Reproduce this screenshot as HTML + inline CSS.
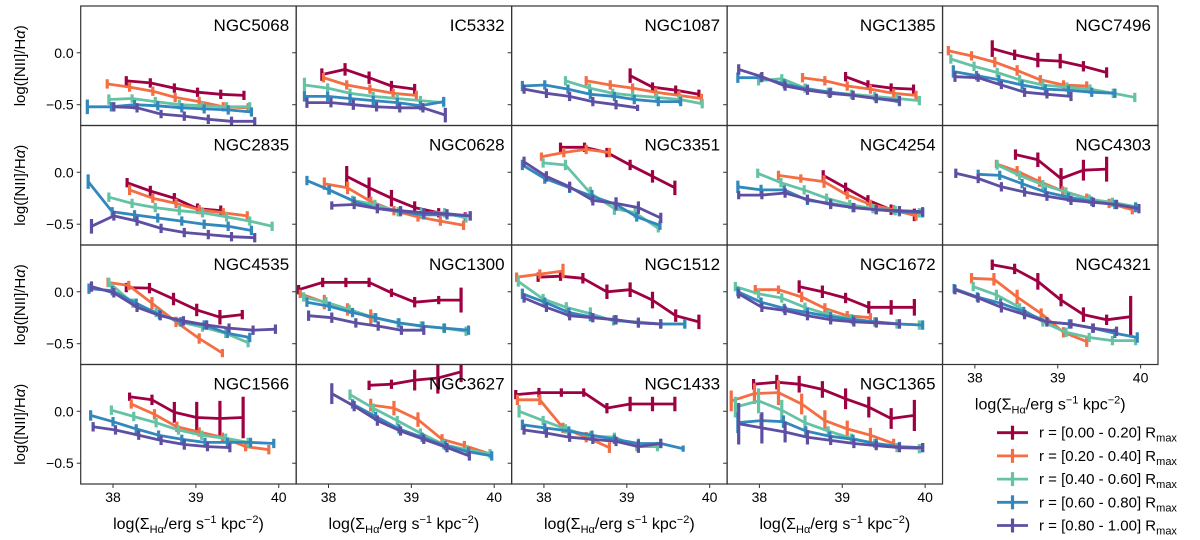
<!DOCTYPE html>
<html><head><meta charset="utf-8"><style>
html,body{margin:0;padding:0;background:#fff;}
svg{display:block;font-family:"Liberation Sans","DejaVu Sans",sans-serif;}
</style></head><body>
<svg id="fig" width="1200" height="540" viewBox="0 0 1200 540" xmlns="http://www.w3.org/2000/svg"></svg>
<script>
const galaxies = ["NGC5068","IC5332","NGC1087","NGC1385","NGC7496","NGC2835","NGC0628","NGC3351","NGC4254","NGC4303","NGC4535","NGC1300","NGC1512","NGC1672","NGC4321","NGC1566","NGC3627","NGC1433","NGC1365"];
const seriesLabels = ["0.00 - 0.20","0.20 - 0.40","0.40 - 0.60","0.60 - 0.80","0.80 - 1.00"];
const xTicks = [38,39,40];
const yTicks = [0.0,-0.5];
const yTickLabels = ["0.0","\u22120.5"];
const r00 = [
[[38.16,-0.27],[38.45,-0.29],[38.74,-0.34],[39.02,-0.38],[39.30,-0.40],[39.58,-0.41]],
[[37.92,-0.21,0.06],[38.20,-0.16,0.06],[38.49,-0.24,0.06],[38.76,-0.32,0.05],[39.04,-0.35,0.05]],
[[39.04,-0.22,0.07],[39.31,-0.33],[39.59,-0.36],[39.87,-0.40]],
[[39.04,-0.23],[39.31,-0.31],[39.59,-0.34],[39.86,-0.35]],
[[38.21,0.04,0.08],[38.48,-0.02,0.05],[38.76,-0.07,0.07],[39.03,-0.08,0.07],[39.31,-0.13,0.05],[39.59,-0.19,0.05]],
[[38.17,-0.10],[38.45,-0.18,0.05],[38.74,-0.25,0.05],[39.02,-0.35,0.05],[39.30,-0.37,0.05]],
[[38.22,-0.04,0.1],[38.49,-0.15,0.1],[38.76,-0.25,0.08],[39.04,-0.34,0.06],[39.33,-0.39],[39.65,-0.43]],
[[38.20,0.24],[38.49,0.24],[38.76,0.19],[39.04,0.07,0.05],[39.31,-0.04,0.06],[39.58,-0.15,0.07]],
[[38.77,-0.03,0.05],[39.04,-0.15,0.05],[39.31,-0.27,0.05],[39.59,-0.36,0.05],[39.87,-0.41,0.06]],
[[38.49,0.17,0.05],[38.76,0.12,0.07],[39.04,-0.06,0.1],[39.31,0.02,0.1],[39.59,0.03,0.12]],
[[38.16,0.04],[38.44,0.035,0.05],[38.73,-0.07,0.06],[39.01,-0.175,0.06],[39.29,-0.245,0.07],[39.56,-0.22]],
[[37.64,0.02],[37.93,0.09],[38.21,0.09],[38.49,0.09],[38.76,-0.01,0.04],[39.04,-0.10,0.05],[39.33,-0.08,0.04],[39.60,-0.08,0.12]],
[[37.93,0.14],[38.20,0.15],[38.47,0.13,0.05],[38.76,0.0,0.07],[39.04,0.02,0.07],[39.31,-0.08,0.08],[39.59,-0.23,0.06],[39.87,-0.29,0.07]],
[[38.48,0.05,0.06],[38.76,0.0,0.06],[39.04,-0.06,0.05],[39.32,-0.15,0.06],[39.59,-0.15,0.07],[39.87,-0.15,0.08]],
[[38.21,0.26,0.05],[38.48,0.22,0.05],[38.76,0.10,0.08],[39.04,-0.08,0.06],[39.31,-0.22,0.07],[39.59,-0.27,0.05],[39.88,-0.24,0.2]],
[[38.20,0.14,0.04],[38.47,0.11,0.05],[38.74,-0.01,0.1],[39.01,-0.06,0.15],[39.29,-0.07,0.17],[39.57,-0.06,0.2]],
[[38.49,0.25],[38.76,0.26],[39.04,0.30,0.1],[39.32,0.32,0.15],[39.60,0.38,0.1]],
[[37.66,0.16],[37.94,0.18],[38.21,0.18,0.04],[38.48,0.18,0.04],[38.76,0.03,0.05],[39.04,0.07,0.07],[39.31,0.07,0.07],[39.58,0.07,0.07]],
[[37.93,0.26,0.05],[38.21,0.28,0.07],[38.48,0.26,0.08],[38.76,0.21,0.08],[39.04,0.12,0.1],[39.32,0.04,0.1],[39.59,-0.07,0.1],[39.87,-0.04,0.15]]
];
const r20 = [
[[37.93,-0.30],[38.20,-0.33],[38.48,-0.37],[38.75,-0.43],[39.04,-0.47],[39.33,-0.52],[39.63,-0.53]],
[[37.94,-0.24],[38.22,-0.31],[38.50,-0.35],[38.78,-0.39],[39.06,-0.41]],
[[38.51,-0.27],[38.80,-0.31],[39.07,-0.34],[39.35,-0.38],[39.63,-0.41],[39.90,-0.44]],
[[38.52,-0.24],[38.79,-0.27],[39.06,-0.32],[39.34,-0.35],[39.62,-0.39],[39.89,-0.41]],
[[37.68,0.02],[37.96,-0.03],[38.24,-0.09,0.05],[38.51,-0.17,0.05],[38.79,-0.26],[39.07,-0.31],[39.35,-0.32]],
[[38.20,-0.17,0.05],[38.48,-0.25],[38.76,-0.30],[39.04,-0.36],[39.33,-0.39],[39.62,-0.42]],
[[37.95,-0.11,0.06],[38.23,-0.15,0.06],[38.51,-0.28],[38.79,-0.37],[39.08,-0.43],[39.35,-0.47],[39.63,-0.51]],
[[37.97,0.15,0.04],[38.24,0.19],[38.51,0.22],[38.79,0.19]],
[[38.23,-0.03],[38.50,-0.06,0.04],[38.78,-0.09,0.06],[39.06,-0.22,0.04],[39.34,-0.31],[39.62,-0.36],[39.89,-0.42]],
[[38.26,0.08,0.04],[38.51,0.01,0.05],[38.78,-0.09,0.05],[39.06,-0.18],[39.35,-0.25],[39.62,-0.30],[39.90,-0.36]],
[[37.94,0.09],[38.19,0.06],[38.47,-0.11,0.06],[38.76,-0.29,0.05],[39.04,-0.45,0.05],[39.32,-0.59,0.04]],
[[37.66,-0.02,0.04],[37.95,-0.10,0.07],[38.23,-0.17,0.06],[38.51,-0.25,0.08]],
[[37.67,0.14],[37.95,0.17],[38.23,0.20,0.07]],
[[37.95,0.02],[38.23,0.02,0.04],[38.51,-0.05,0.05],[38.79,-0.16,0.05],[39.06,-0.23],[39.34,-0.25]],
[[37.96,0.13,0.05],[38.23,0.12,0.06],[38.51,-0.05,0.07],[38.80,-0.21,0.05],[39.07,-0.39,0.05],[39.35,-0.48,0.05]],
[[38.22,0.07],[38.50,-0.03,0.05],[38.77,-0.15,0.05],[39.04,-0.20],[39.32,-0.25],[39.60,-0.34],[39.88,-0.37]],
[[38.51,0.06,0.06],[38.79,0.03,0.07],[39.08,-0.08,0.07],[39.37,-0.27,0.05],[39.64,-0.33],[39.95,-0.41]],
[[37.68,0.11,0.05],[37.95,0.11,0.05],[38.23,-0.16,0.05],[38.51,-0.25,0.05],[38.79,-0.35,0.05]],
[[37.66,0.10,0.1],[37.94,0.17,0.1],[38.23,0.18,0.12],[38.51,0.07,0.1],[38.79,-0.09,0.1],[39.06,-0.17,0.08],[39.34,-0.23,0.07],[39.62,-0.31]]
];
const r40 = [
[[37.95,-0.45,0.05],[38.23,-0.44,0.04],[38.51,-0.47],[38.80,-0.50],[39.08,-0.51],[39.37,-0.52],[39.65,-0.52]],
[[37.71,-0.31,0.07],[37.99,-0.34],[38.26,-0.39],[38.54,-0.42],[38.83,-0.44],[39.11,-0.46],[39.39,-0.48]],
[[38.26,-0.27],[38.55,-0.34],[38.83,-0.39],[39.07,-0.41],[39.36,-0.43],[39.64,-0.45],[39.91,-0.49]],
[[37.99,-0.27],[38.27,-0.25],[38.55,-0.34],[38.83,-0.38],[39.11,-0.40],[39.39,-0.42],[39.66,-0.44],[39.93,-0.46]],
[[37.71,-0.06],[37.99,-0.13],[38.27,-0.19],[38.54,-0.26],[38.82,-0.31],[39.11,-0.33],[39.39,-0.35],[39.67,-0.39],[39.93,-0.43]],
[[37.95,-0.24],[38.23,-0.30],[38.51,-0.34],[38.80,-0.37],[39.08,-0.39],[39.37,-0.43],[39.65,-0.47],[39.92,-0.52]],
[[38.00,-0.17],[38.29,-0.27],[38.56,-0.31],[38.84,-0.38],[39.12,-0.39],[39.40,-0.39],[39.66,-0.44]],
[[37.99,0.09],[38.26,0.07,0.05],[38.56,-0.20,0.06],[38.85,-0.35,0.06],[39.10,-0.39,0.05],[39.38,-0.54,0.04]],
[[37.98,-0.01],[38.26,-0.10],[38.54,-0.17],[38.81,-0.25],[39.09,-0.31],[39.37,-0.35],[39.64,-0.37],[39.93,-0.39]],
[[38.27,0.07],[38.54,-0.03],[38.82,-0.12],[39.10,-0.19],[39.38,-0.26],[39.66,-0.29],[39.94,-0.33]],
[[37.95,0.09],[38.24,-0.11],[38.52,-0.20],[38.81,-0.29],[39.08,-0.34],[39.36,-0.40],[39.63,-0.49]],
[[37.70,-0.05],[37.97,-0.10,0.05],[38.25,-0.17],[38.55,-0.25],[38.84,-0.30],[39.12,-0.33],[39.39,-0.35],[39.66,-0.38]],
[[37.69,0.10,0.05],[37.99,-0.07,0.05],[38.27,-0.15,0.05],[38.56,-0.21,0.06],[38.84,-0.28],[39.14,-0.29],[39.41,-0.31],[39.70,-0.31]],
[[37.71,0.05],[37.99,-0.02],[38.27,-0.06],[38.55,-0.15],[38.83,-0.22],[39.11,-0.26],[39.39,-0.29],[39.66,-0.31],[39.93,-0.32]],
[[37.98,0.05],[38.26,-0.03,0.05],[38.54,-0.15,0.04],[38.82,-0.29],[39.10,-0.39],[39.38,-0.44],[39.66,-0.47],[39.94,-0.47]],
[[37.98,0.01],[38.25,-0.05],[38.52,-0.11],[38.79,-0.18],[39.07,-0.23],[39.36,-0.26],[39.63,-0.30]],
[[38.26,0.16,0.05],[38.54,0.03],[38.83,-0.09],[39.11,-0.21],[39.39,-0.32],[39.67,-0.37],[39.95,-0.41]],
[[37.70,0.0,0.06],[37.99,-0.09],[38.26,-0.17],[38.56,-0.24],[38.85,-0.25],[39.12,-0.34],[39.37,-0.34]],
[[37.71,0.04,0.1],[37.99,0.10,0.12],[38.27,0.01,0.1],[38.55,-0.11,0.07],[38.83,-0.19],[39.11,-0.26],[39.39,-0.31],[39.66,-0.35],[39.93,-0.36]]
];
const r60 = [
[[37.69,-0.52,0.07],[37.98,-0.52],[38.26,-0.50],[38.54,-0.51],[38.83,-0.53],[39.10,-0.54],[39.39,-0.55],[39.67,-0.57]],
[[37.71,-0.42,0.05],[37.99,-0.42],[38.26,-0.44],[38.54,-0.46],[38.83,-0.48],[39.11,-0.51],[39.39,-0.47]],
[[37.74,-0.32,0.05],[38.01,-0.31],[38.29,-0.35],[38.56,-0.40],[38.85,-0.42],[39.09,-0.45],[39.38,-0.47],[39.65,-0.47]],
[[37.74,-0.24,0.05],[38.02,-0.24],[38.30,-0.30],[38.58,-0.35],[38.86,-0.38],[39.13,-0.41],[39.41,-0.44],[39.69,-0.47]],
[[37.74,-0.18,0.06],[38.02,-0.22],[38.29,-0.26],[38.57,-0.31],[38.85,-0.35],[39.13,-0.36],[39.41,-0.38],[39.69,-0.39]],
[[37.70,-0.09,0.07],[37.99,-0.38],[38.26,-0.41],[38.54,-0.44],[38.83,-0.47],[39.10,-0.50],[39.39,-0.52],[39.67,-0.56]],
[[37.74,-0.08],[38.01,-0.17],[38.31,-0.28],[38.59,-0.35],[38.87,-0.38],[39.15,-0.41],[39.43,-0.41],[39.71,-0.42]],
[[37.74,0.07,0.05],[38.01,-0.06,0.05],[38.31,-0.15,0.05],[38.58,-0.23,0.06],[38.87,-0.31,0.06],[39.12,-0.43],[39.40,-0.51]],
[[37.74,-0.14,0.06],[38.02,-0.17,0.05],[38.30,-0.17],[38.58,-0.27],[38.86,-0.30],[39.13,-0.34],[39.41,-0.36],[39.69,-0.38],[39.97,-0.39]],
[[38.04,-0.02],[38.30,-0.03],[38.57,-0.11],[38.85,-0.19],[39.13,-0.24],[39.41,-0.28],[39.69,-0.31],[39.94,-0.34]],
[[37.71,0.03,0.05],[37.99,0.01],[38.28,-0.11],[38.56,-0.22],[38.82,-0.29],[39.10,-0.32],[39.38,-0.40],[39.65,-0.44]],
[[37.74,-0.10],[38.01,-0.14],[38.29,-0.20],[38.57,-0.25],[38.85,-0.30],[39.14,-0.33],[39.40,-0.35],[39.69,-0.37]],
[[37.74,-0.02,0.05],[38.01,-0.10],[38.30,-0.20],[38.56,-0.24],[38.85,-0.27],[39.14,-0.30],[39.41,-0.31],[39.70,-0.31]],
[[37.74,0.0],[38.02,-0.10],[38.30,-0.16],[38.58,-0.20],[38.86,-0.24],[39.13,-0.27],[39.41,-0.29],[39.69,-0.31],[39.97,-0.32]],
[[37.75,0.03],[38.03,-0.05],[38.31,-0.11],[38.59,-0.19],[38.87,-0.29],[39.14,-0.31],[39.42,-0.35],[39.69,-0.40],[39.96,-0.44,0.05]],
[[37.73,-0.04,0.05],[38.00,-0.10],[38.28,-0.17],[38.55,-0.23],[38.83,-0.27],[39.11,-0.30],[39.38,-0.30],[39.66,-0.30],[39.94,-0.31]],
[[38.29,0.07],[38.57,-0.05],[38.85,-0.17],[39.13,-0.25],[39.41,-0.33],[39.69,-0.39],[39.97,-0.43]],
[[37.74,-0.13,0.05],[38.01,-0.16],[38.30,-0.19],[38.58,-0.23],[38.85,-0.27],[39.14,-0.31],[39.41,-0.31],[39.68,-0.36,0.005]],
[[37.74,-0.11,0.1],[38.02,-0.09,0.06],[38.29,-0.10,0.06],[38.56,-0.19],[38.85,-0.24],[39.13,-0.27],[39.41,-0.31],[39.69,-0.34],[39.97,-0.35]]
];
const r80 = [
[[38.01,-0.52],[38.29,-0.53],[38.58,-0.59,0.04],[38.86,-0.61],[39.15,-0.64],[39.43,-0.66],[39.71,-0.66,0.04]],
[[37.74,-0.48,0.05],[38.03,-0.48],[38.30,-0.50,0.05],[38.58,-0.52],[38.86,-0.53],[39.14,-0.53],[39.41,-0.60,0.07]],
[[37.76,-0.35],[38.03,-0.39],[38.31,-0.42],[38.59,-0.47],[38.87,-0.50],[39.13,-0.53,0.01]],
[[37.75,-0.16,0.05],[38.03,-0.23],[38.31,-0.32],[38.58,-0.36],[38.85,-0.39],[39.13,-0.41],[39.41,-0.44],[39.69,-0.46]],
[[37.76,-0.23,0.05],[38.04,-0.24,0.04],[38.32,-0.31,0.04],[38.60,-0.38],[38.87,-0.40,0.04],[39.16,-0.42]],
[[37.74,-0.52,0.07],[38.01,-0.42],[38.29,-0.47],[38.58,-0.54],[38.86,-0.58],[39.15,-0.60],[39.43,-0.62],[39.71,-0.63]],
[[38.04,-0.32,0.04],[38.31,-0.31],[38.59,-0.35],[38.87,-0.37],[39.15,-0.39],[39.43,-0.40],[39.71,-0.42]],
[[37.76,0.10,0.05],[38.03,-0.04,0.05],[38.31,-0.14,0.05],[38.59,-0.27,0.05],[38.87,-0.30,0.06],[39.14,-0.34,0.06],[39.41,-0.44,0.05]],
[[37.75,-0.22,0.04],[38.03,-0.22,0.04],[38.31,-0.20],[38.58,-0.26],[38.86,-0.31],[39.14,-0.34],[39.41,-0.36],[39.69,-0.37],[39.97,-0.38]],
[[37.77,-0.01],[38.04,-0.06],[38.32,-0.14],[38.60,-0.19],[38.87,-0.23],[39.16,-0.27],[39.43,-0.29],[39.71,-0.31],[39.98,-0.35]],
[[37.74,0.05,0.05],[38.01,-0.01],[38.29,-0.15],[38.57,-0.23],[38.85,-0.28],[39.13,-0.32],[39.40,-0.35],[39.69,-0.37],[39.96,-0.36]],
[[37.76,-0.23,0.05],[38.04,-0.25,0.05],[38.33,-0.30],[38.60,-0.33],[38.88,-0.37],[39.15,-0.37]],
[[37.76,-0.06],[38.03,-0.15],[38.31,-0.23],[38.59,-0.25],[38.87,-0.27],[39.14,-0.30],[39.41,-0.31]],
[[37.75,-0.02],[38.03,-0.15],[38.31,-0.18],[38.58,-0.23],[38.86,-0.27],[39.14,-0.29],[39.41,-0.30],[39.69,-0.31]],
[[37.76,0.02],[38.04,-0.06],[38.32,-0.15,0.05],[38.60,-0.22],[38.87,-0.29],[39.16,-0.31],[39.43,-0.35],[39.71,-0.38]],
[[37.76,-0.15],[38.03,-0.18],[38.31,-0.23],[38.58,-0.28],[38.86,-0.32,0.05],[39.14,-0.34],[39.41,-0.35]],
[[38.04,0.17,0.1],[38.31,0.05,0.05],[38.59,-0.09,0.05],[38.87,-0.19],[39.15,-0.27],[39.43,-0.35],[39.70,-0.43]],
[[37.76,-0.18],[38.03,-0.21],[38.31,-0.25],[38.59,-0.27],[38.87,-0.29],[39.14,-0.34,0.06],[39.41,-0.31]],
[[37.75,-0.12,0.2],[38.03,-0.16,0.15],[38.31,-0.20,0.1],[38.58,-0.25,0.07],[38.86,-0.28],[39.14,-0.31],[39.41,-0.33],[39.69,-0.35],[39.97,-0.35]]
];
const allSeries = [r00, r20, r40, r60, r80];
const colors = ["#9e0142","#f46d43","#66c2a5","#3288bd","#5e4fa2"];

const NS = "http://www.w3.org/2000/svg";
const svg = document.getElementById("fig");
const X0 = 80.7, PW = 215.46, Y0 = 6, PH = 119.5;
const XMIN = 37.61, XMAX = 40.21, YMIN = -0.70, YMAX = 0.45;
function xs(v, c){ return X0 + c*PW + (v - XMIN)/(XMAX - XMIN)*PW; }
function ys(v, r){ return Y0 + r*PH + (YMAX - v)/(YMAX - YMIN)*PH; }
function mk(tag, attrs, parent){
  const e = document.createElementNS(NS, tag);
  for (const k in attrs) e.setAttribute(k, attrs[k]);
  (parent || svg).appendChild(e);
  return e;
}
const xlabelHTML = 'log(\u03A3<tspan font-size="11" dy="4">H\u03B1</tspan><tspan dy="-4">/erg s</tspan><tspan font-size="11" dy="-6">\u22121</tspan><tspan dy="6"> kpc</tspan><tspan font-size="11" dy="-6">\u22122</tspan><tspan dy="6">)</tspan>';

galaxies.forEach((name, i) => {
  const r = Math.floor(i/5), c = i%5;
  const g = mk("g", {});
  
  
  const left = X0 + c*PW, top = Y0 + r*PH;
  const clipId = "clip" + i;
  const cp = mk("clipPath", {id: clipId}, g);
  mk("rect", {x:left, y:top, width:PW, height:PH}, cp);
  const plot = mk("g", {"clip-path": "url(#" + clipId + ")"}, g);
  allSeries.forEach((ser, s) => {
    const pts = ser[i];
    if (!pts || !pts.length) return;
    const sg = mk("g", {}, plot);
    
    
    const d = pts.map((p,k) => (k?"L":"M") + xs(p[0],c).toFixed(1) + "," + ys(p[1],r).toFixed(1)).join("");
    mk("path", {d:d, fill:"none", stroke:colors[s], "stroke-width":2.8, "stroke-linejoin":"round"}, sg);
    pts.forEach(p => {
      const e = (p[2] !== undefined ? Math.max(p[2],0.03) : 0.045);
      const x = xs(p[0],c);
      const eb = mk("line", {x1:x, x2:x, y1:ys(p[1]+e,r), y2:ys(p[1]-e,r), stroke:colors[s], "stroke-width":3.2}, sg);
      
      
    });
  });
  const fr = mk("rect", {x:left, y:top, width:PW, height:PH, fill:"none", stroke:"#333", "stroke-width":1.2}, g);
  
  
  yTicks.forEach((t, k) => {
    const y = ys(t, r);
    mk("line", {x1:left-4, x2:left, y1:y, y2:y, stroke:"#333", "stroke-width":1}, g);
    if (c === 0) {
      const tl = mk("text", {x:left-7, y:y+5, "text-anchor":"end", "font-size":14, fill:"#000"}, g);
      tl.textContent = yTickLabels[k];
      
      
    }
  });
  const isBottom = (r === 3) || (r === 2 && c === 4);
  if (isBottom) {
    xTicks.forEach(t => {
      const x = xs(t, c);
      mk("line", {x1:x, x2:x, y1:top+PH, y2:top+PH+4, stroke:"#333", "stroke-width":1}, g);
      const tl = mk("text", {x:x, y:top+PH+18, "text-anchor":"middle", "font-size":14, fill:"#000"}, g);
      tl.textContent = String(t);
      
      
    });
    const xl = mk("text", {x:left+PW/2, y:top+PH+45, "text-anchor":"middle", "font-size":16, fill:"#000"}, g);
    xl.innerHTML = xlabelHTML;
    
    
  }
  if (c === 0) {
    const cy = top + PH/2;
    const yl = mk("text", {x:0, y:0, transform:"translate(25," + cy + ") rotate(-90)", "text-anchor":"middle", "font-size":15, fill:"#000"}, g);
    yl.innerHTML = 'log([NII]/H<tspan font-style="italic">\u03B1</tspan>)';
    
    
  }
  const nt = mk("text", {x:left+PW-7, y:top+25, "text-anchor":"end", "font-size":17, fill:"#000"}, g);
  nt.textContent = name;
  
  
});

const lg = mk("g", {});


seriesLabels.forEach((lab, s) => {
  const y = 432.7 + s*23.2;
  const eg = mk("g", {}, lg);
  
  
  mk("line", {x1:997, x2:1028, y1:y, y2:y, stroke:colors[s], "stroke-width":2.8}, eg);
  mk("line", {x1:1012.5, x2:1012.5, y1:y-7, y2:y+7, stroke:colors[s], "stroke-width":3.2}, eg);
  const t = mk("text", {x:1039, y:y+5, "font-size":15, fill:"#000"}, eg);
  t.innerHTML = 'r = [' + lab + '] R<tspan font-size="11" dy="4">max</tspan>';
});
</script>
</body></html>
